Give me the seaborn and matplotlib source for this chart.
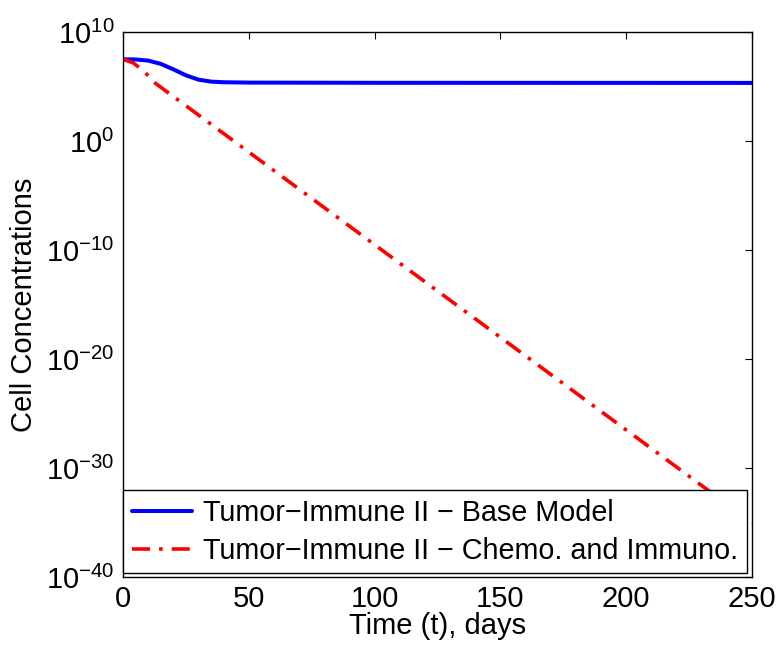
import numpy as np
import pandas as pd
import matplotlib
matplotlib.use("Agg")
import matplotlib.pyplot as plt
import seaborn as sns

# Data (log10 of cell concentrations)
t_base = [0, 5, 10, 15, 20, 25, 30, 35, 40, 50, 100, 250]
log_base = [7.52, 7.5, 7.4, 7.1, 6.6, 6.05, 5.65, 5.47, 5.41, 5.38, 5.36, 5.35]
t_chemo = [0, 4, 8, 13, 250]
log_chemo = [7.52, 7.2, 6.5, 5.3, -35.0]

label_base = "Tumor\u2212Immune II \u2212 Base Model"
label_chemo = "Tumor\u2212Immune II \u2212 Chemo. and Immuno."
x_ticks = [0, 50, 100, 150, 200, 250]
y_ticks = [1e-40, 1e-30, 1e-20, 1e-10, 1e0, 1e10]

sns.set_style("white")
plt.rcParams["font.family"] = ["Liberation Sans", "DejaVu Sans"]
plt.rcParams["mathtext.fontset"] = "custom"
plt.rcParams["mathtext.rm"] = "Liberation Sans"
plt.rcParams["mathtext.it"] = "Liberation Sans"
plt.rcParams["mathtext.default"] = "regular"
plt.rcParams["text.color"] = "black"
plt.rcParams["axes.labelcolor"] = "black"

df_base = pd.DataFrame({"t": t_base, "y": 10.0 ** np.array(log_base)})
df_chemo = pd.DataFrame({"t": t_chemo, "y": 10.0 ** np.array(log_chemo)})

fig = plt.figure(figsize=(7.83, 6.58), dpi=100)
ax = fig.add_axes([0.157, 0.123, 0.8034, 0.828])

sns.lineplot(data=df_base, x="t", y="y", ax=ax, color="#0000ff", lw=2.9,
             label=label_base)
sns.lineplot(data=df_chemo, x="t", y="y", ax=ax, color="#ff0000", lw=2.6,
             label=label_chemo)
ax.lines[1].set_dashes([5, 2.5, 1, 2.5])

ax.set_yscale("log")
ax.set_xlim(0, 250)
ax.set_ylim(1e-40, 1e10)
ax.set_xticks(x_ticks)
ax.set_yticks(y_ticks)
ax.minorticks_off()
ax.tick_params(direction="in", length=5, width=0.8, top=True, right=True,
               labelsize=21, colors="black", pad=6)
for s in ax.spines.values():
    s.set_color("black")
    s.set_linewidth(1.0)
ax.set_xlabel("Time (t), days", fontsize=21, labelpad=-1)
ax.set_ylabel("Cell Concentrations", fontsize=21, labelpad=6)

leg = ax.legend(loc="lower left", bbox_to_anchor=(0.0, 0.007), borderaxespad=0,
                fontsize=20.7, frameon=True, fancybox=False, handlelength=2.1,
                handletextpad=0.4, borderpad=0.3, labelspacing=0.35,
                labelcolor="black")
leg.get_frame().set_edgecolor("black")
leg.get_frame().set_linewidth(1.0)
leg.get_frame().set_alpha(1)

fig.savefig("out.png", dpi=100)
